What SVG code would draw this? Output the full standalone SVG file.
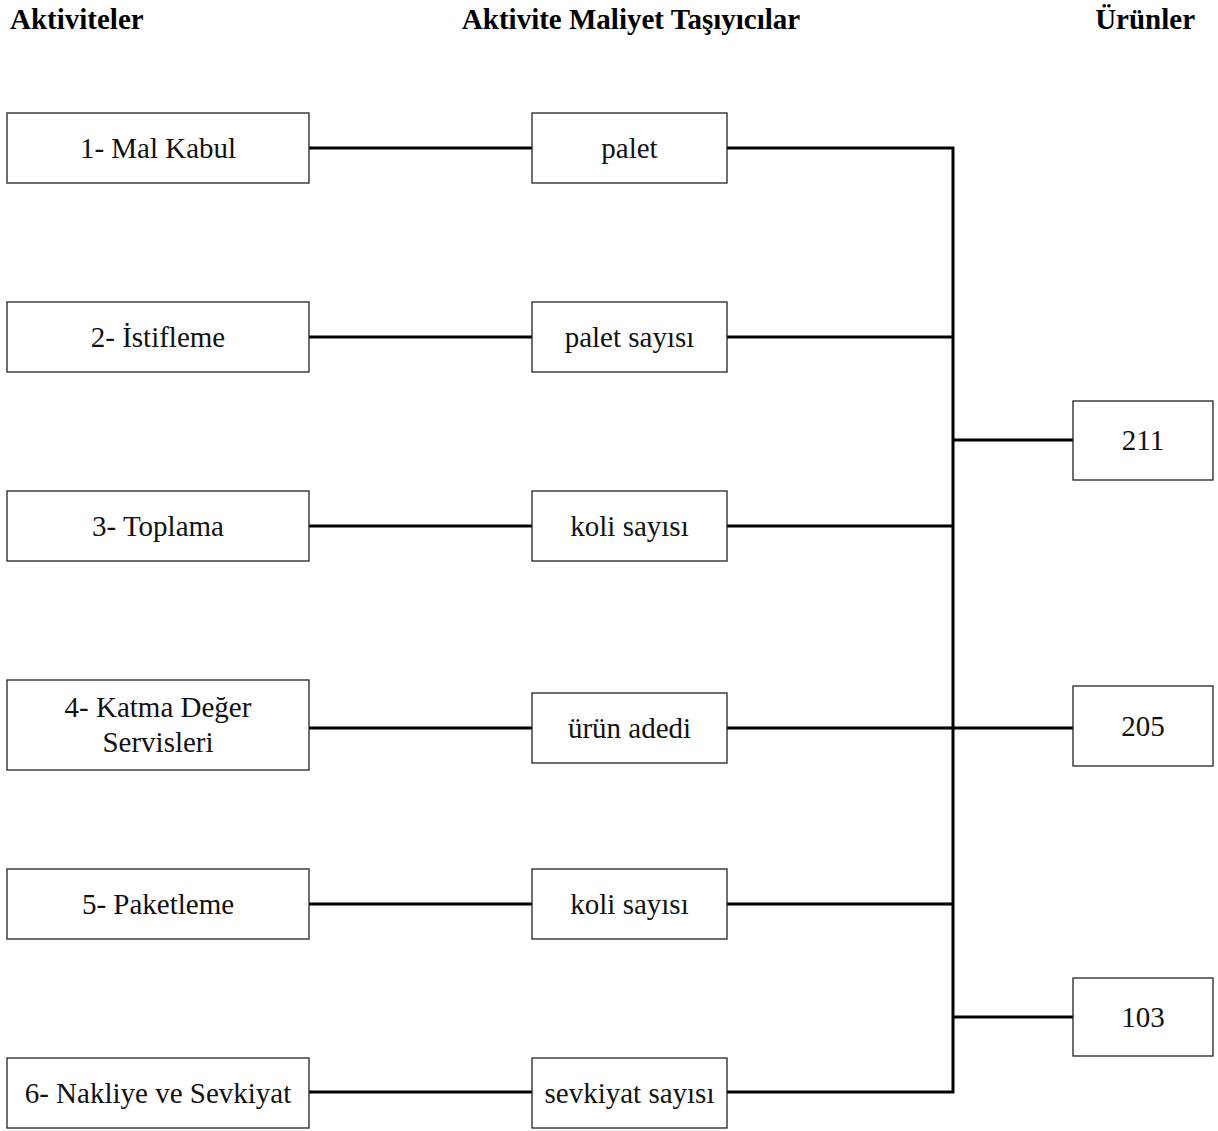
<svg xmlns="http://www.w3.org/2000/svg" width="1218" height="1131" viewBox="0 0 1218 1131">
<style>
.bx{fill:#fff;stroke:#222;stroke-width:1.3}
.t{font-family:"Liberation Serif","Times New Roman",serif;font-size:29px;fill:#111;text-anchor:middle}
.h{font-family:"Liberation Serif","Times New Roman",serif;font-size:29px;font-weight:bold;fill:#000}
.c{fill:none;stroke:#000;stroke-width:3}
</style>
<rect width="1218" height="1131" fill="#fff"/>
<g id="headers">
<text class="h" x="10" y="29">Aktiviteler</text>
<text class="h" x="631" y="29" text-anchor="middle">Aktivite Maliyet Taşıyıcılar</text>
<text class="h" x="1195" y="29" text-anchor="end">Ürünler</text>
</g>
<g id="connectors">
<line class="c" x1="309" y1="148" x2="532" y2="148"/>
<line class="c" x1="309" y1="337" x2="532" y2="337"/>
<line class="c" x1="309" y1="526" x2="532" y2="526"/>
<line class="c" x1="309" y1="728" x2="532" y2="728"/>
<line class="c" x1="309" y1="904" x2="532" y2="904"/>
<line class="c" x1="309" y1="1092" x2="532" y2="1092"/>
<polyline class="c" points="727,148 953,148 953,1092 727,1092"/>
<line class="c" x1="727" y1="337" x2="953" y2="337"/>
<line class="c" x1="727" y1="526" x2="953" y2="526"/>
<line class="c" x1="727" y1="728" x2="1073" y2="728"/>
<line class="c" x1="727" y1="904" x2="953" y2="904"/>
<line class="c" x1="953" y1="440" x2="1073" y2="440"/>
<line class="c" x1="953" y1="1017" x2="1073" y2="1017"/>
</g>
<g id="a1"><rect class="bx" x="7" y="113" width="302" height="70"/><text class="t" x="158" y="157.5">1- Mal Kabul</text></g>
<g id="a2"><rect class="bx" x="7" y="302" width="302" height="70"/><text class="t" x="158" y="346.5">2- İstifleme</text></g>
<g id="a3"><rect class="bx" x="7" y="491" width="302" height="70"/><text class="t" x="158" y="535.5">3- Toplama</text></g>
<g id="a4"><rect class="bx" x="7" y="680" width="302" height="90"/><text class="t" x="158" y="717">4- Katma Değer</text><text class="t" x="158" y="752">Servisleri</text></g>
<g id="a5"><rect class="bx" x="7" y="869" width="302" height="70"/><text class="t" x="158" y="913.5">5- Paketleme</text></g>
<g id="a6"><rect class="bx" x="7" y="1058" width="302" height="70"/><text class="t" x="158" y="1102.5">6- Nakliye ve Sevkiyat</text></g>
<g id="d1"><rect class="bx" x="532" y="113" width="195" height="70"/><text class="t" x="629.5" y="157.5">palet</text></g>
<g id="d2"><rect class="bx" x="532" y="302" width="195" height="70"/><text class="t" x="629.5" y="346.5">palet sayısı</text></g>
<g id="d3"><rect class="bx" x="532" y="491" width="195" height="70"/><text class="t" x="629.5" y="535.5">koli sayısı</text></g>
<g id="d4"><rect class="bx" x="532" y="693" width="195" height="70"/><text class="t" x="629.5" y="737.5">ürün adedi</text></g>
<g id="d5"><rect class="bx" x="532" y="869" width="195" height="70"/><text class="t" x="629.5" y="913.5">koli sayısı</text></g>
<g id="d6"><rect class="bx" x="532" y="1058" width="195" height="70"/><text class="t" x="629.5" y="1102.5">sevkiyat sayısı</text></g>
<g id="p211"><rect class="bx" x="1073" y="401" width="140" height="79"/><text class="t" x="1143" y="449.5">211</text></g>
<g id="p205"><rect class="bx" x="1073" y="686" width="140" height="80"/><text class="t" x="1143" y="735.5">205</text></g>
<g id="p103"><rect class="bx" x="1073" y="978" width="140" height="78"/><text class="t" x="1143" y="1026.5">103</text></g>
</svg>
